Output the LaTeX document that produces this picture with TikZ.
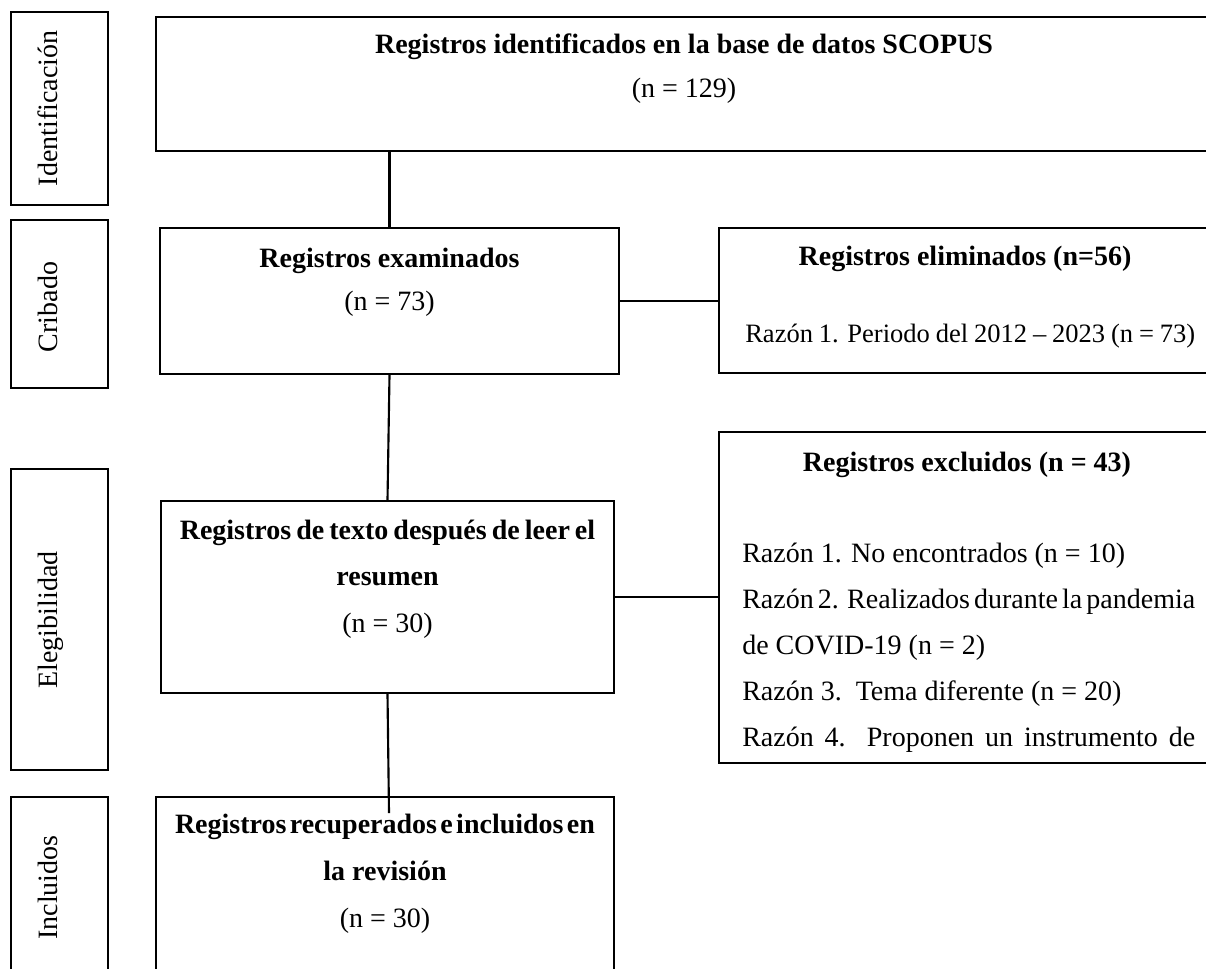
\documentclass[tikz,border=0pt]{standalone}
\usepackage{fontspec}
\setmainfont{Liberation Serif}
\newcommand\jline[2]{{\spaceskip=.25em plus 1em minus .15em\relax\makebox[#1][s]{#2}}}
\newcommand\tightsp[2]{{\spaceskip=#1\relax #2}}
\begin{document}
\begin{tikzpicture}[x=0.75pt,y=-0.75pt,
  box/.style={draw=black, line width=1.5pt, rectangle, inner sep=0pt},
  side/.style={draw=black, line width=0.9pt, rectangle, inner sep=0pt, minimum width=72.75pt},
  txt/.style={font=\fontsize{21}{25}\selectfont, inner sep=0pt, anchor=base},
  tbold/.style={font=\fontsize{21}{25}\selectfont\bfseries, inner sep=0pt, anchor=base},
  txtw/.style={txt, anchor=base west},
  rot/.style={txt, rotate=90},
  conn/.style={draw=black, line width=1.6pt}]
\useasboundingbox (0,0) rectangle (1206,968);
\clip (0,0) rectangle (1206,968);

% left stage boxes
\node[side, minimum height=144.75pt] (ident) at (59.5,108.5) {};
\node[side, minimum height=126pt] (crib) at (59.5,304) {};
\node[side, minimum height=225.75pt] (eleg) at (59.5,619.5) {};
\node[side, minimum height=152.25pt] (incl) at (59.5,898.5) {};
\node[rot] (identt) at (57,108.5) {Identificación};
\node[rot] (cribt) at (57,307) {Cribado};
\node[rot] (elegt) at (57,620) {Elegibilidad};
\node[rot] (inclt) at (57,887.5) {Incluidos};

% main boxes
\node[box, minimum width=792pt, minimum height=100.5pt] (topb) at (684,84) {};
\node[box, minimum width=344.25pt, minimum height=109.5pt] (exam) at (389.5,301) {};
\node[box, minimum width=369.75pt, minimum height=108.75pt] (elim) at (965.5,300.5) {};
\node[box, minimum width=339.75pt, minimum height=144pt] (texto) at (387.5,597) {};
\node[box, minimum width=369.75pt, minimum height=248.25pt] (excl) at (965.5,597.5) {};
\node[box, minimum width=343.5pt, minimum height=152.25pt] (recup) at (385,898.5) {};

% texts
\node[tbold] (topt1) at (684,53) {Registros identificados en la base de datos SCOPUS};
\node[txt] (topt2) at (684,97) {(n = 129)};
\node[tbold] (examt1) at (389.5,267) {Registros examinados};
\node[txt] (examt2) at (389.5,310) {(n = 73)};
\node[tbold] (elimt1) at (965,265) {Registros eliminados (n=56)};
\node[txtw, font=\fontsize{19.9}{24}\selectfont] (elimt2) at (745,342) {\jline{337.5pt}{Razón 1. Periodo del 2012 – 2023 (n = 73)}};
\node[tbold] (textot1) at (387.5,539) {\tightsp{.18em}{Registros de texto después de leer el}};
\node[tbold] (textot2) at (387.5,585) {resumen};
\node[txt] (textot3) at (387.5,632) {(n = 30)};
\node[tbold] (exclt1) at (967,471) {Registros excluidos (n = 43)};
\node[txtw] (exclt2) at (742,562) {Razón 1. No encontrados (n = 10)};
\node[txtw] (exclt3) at (742,608) {\jline{339.75pt}{Razón 2. Realizados durante la pandemia}};
\node[txtw] (exclt4) at (742,654) {de COVID-19 (n = 2)};
\node[txtw] (exclt5) at (742,700) {Razón 3.\ \ Tema diferente (n = 20)};
\node[txtw] (exclt6) at (742,746) {\jline{339.75pt}{Razón 4. Proponen un instrumento de}};
\node[tbold] (recupt1) at (385,833) {\tightsp{.12em}{Registros recuperados e incluidos en}};
\node[tbold] (recupt2) at (385,880) {la revisión};
\node[txt] (recupt3) at (385,927) {(n = 30)};

% connectors
\coordinate (recin) at (389,813);
\draw[conn] (exam.north |- topb.south) -- (exam.north);
\draw[conn] (exam.south) -- (texto.north);
\draw[conn] (texto.south) -- (recin);
\draw[conn] (exam.east) -- (elim.west |- exam.east);
\draw[conn] (texto.east) -- (excl.west |- texto.east);
\end{tikzpicture}
\end{document}
